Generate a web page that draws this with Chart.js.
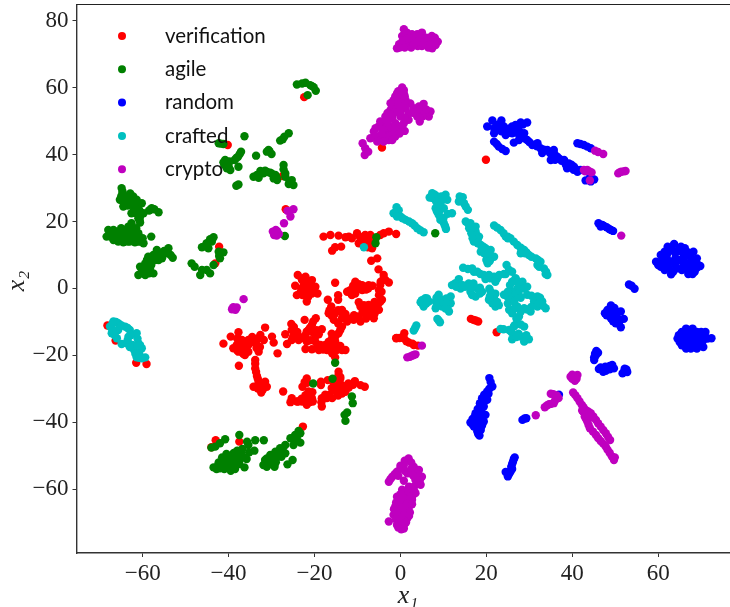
<!DOCTYPE html>
<html>
<head>
 <meta charset="utf-8" />
 <title>t-SNE scatter</title>
 <script src="https://cdn.jsdelivr.net/npm/chart.js@4"></script>
 <style>
  html, body { margin: 0; padding: 0; background: #fff; overflow: hidden; }
 </style>
</head>
<body>
 <!-- 5px wider than the window: the layout leaves 5px free on the right and the plot has to run to the edge -->
 <canvas id="myChart" width="735" height="607"></canvas>
 <script>
  // values, [x1, x2]
  var names = ["verification", "agile", "random", "crafted", "crypto"];
  var colors = ["#ff0000", "#008000", "#0000ff", "#00bfbf", "#bf00bf"];
  var xTicks = [-60, -40, -20, 0, 20, 40, 60];
  var yTicks = [-60, -40, -20, 0, 20, 40, 60, 80];

  var verification = [
   [-22.4,57.2],[-40.2,42.9],[-4.3,42.1],[-43.1,7.5],[-42.2,12.5],[-27.4,33.6],[-26.7,23.7],[19.9,38.5],
   [-17.9,15.5],[-16.3,16],[-14.4,15.8],[-12.8,15.3],[-11.3,15],[-10.1,16.5],[-8.9,14.5],[-8.2,16],[-7,16],[-7,14],[-6.6,12],[-9.7,13.5],[-8.2,13],
   [-3.9,16.5],[-2.7,17],[-1,16.3],[-4.7,16],[-15.9,11.3],[-15.2,12.3],[-13.8,12.5],[-6.8,8.3],[-5.4,9],[-5.1,5.7],[-3.9,4],
   [-12,15.5],[-9.5,15.5],[-7.5,15],[-8.8,13.3],[-7.6,12.3],[-6.8,13],
   [-23.9,4],[-22.1,3.5],[-20.6,2.5],[-24.5,0.8],[-22.5,1],[-21.4,0],[-24.1,-2],[-20.6,-1.5],[-19.3,-1.5],[-21.8,-3.9],[-22.1,-1],[-19.8,0.5],[-22.9,2.5],[-15.2,1.7],
   [-23,0],[-23.2,-1],[-21.8,2],[-23,3],[-21,1.4],[-20.8,-0.5],[-22.8,-2],[-21.5,-2.6],
   [-3.9,3],[-2.7,1.8],[-4.7,1],[-7.4,1],[-8.9,1],[-10.5,2],[-11.7,-0.5],[-12.4,-1],[-10.5,-1.5],[-8.9,-0.5],[-11.3,-2],[-5,-0.5],[-5,-2],[-4.7,-4],[-4.3,-3.4],
   [-9.7,1.3],[-9.5,0],[-10.5,0],[-11,0.8],[-6.5,0.8],[-7.5,0],[-8,-0.3],[-4.6,2],[-4.4,-1],[-3.5,2.5],
   [-14.5,-2],[-14.5,-3.4],[-16.9,-3.4],[-16.1,-5.4],[-9.7,-4.1],[-9.3,-5.4],[-7.4,-4.9],[-5.8,-5.9],[-5,-6.4],[-7,-7.4],[-6.2,-8.9],[-8.2,-7.4],[-9.7,-8.4],[-9.3,-9.9],[-10.9,-9.4],[-12.4,-9.9],
   [-6.8,-6],[-7.8,-6],[-8.8,-7],[-6,-7.5],[-5.3,-5],[-6,-4],[-8,-9],[-10.8,-8],[-8.5,-5],
   [-13.6,-6.4],[-15.2,-7.4],[-16.7,-7.4],[-15.5,-9.4],[-13.6,-8.9],[-13.6,-11.4],[-14.4,-13.4],[-15.9,-14.9],[-16.7,-15.9],[-15.5,-16.9],[-17.5,-16.9],
   [-13.5,-7.5],[-12,-9],[-14.5,-6.5],[-16,-8.2],[-12.8,-7.6],[-16.5,-6.5],[-14.5,-10.5],[-14,-12.4],[-15,-14],[-15.2,-15.8],[-16.5,-17],[-14.6,-17.6],[-16.3,-18.3],[-18,-18.3],[-14,-17.2],[-16,-13.5],
   [-13.6,-18.4],[-12.8,-18.4],[-14.8,-18.4],[-15.9,-19.4],[-15.2,-20.6],[-17.1,-18.4],[-19,-18.4],[-20.6,-18.2],[-22.1,-18.1],
   [-25.4,-10.6],[-22.3,-9.4],[-19.7,-8.9],[-20.6,-10.9],[-18.3,-12.2],[-21.4,-12.4],[-25.3,-12.4],[-26.8,-13.7],[-24.5,-13.9],[-26.4,-16.6],[-25.3,-15.4],[-23.7,-15.4],[-21.8,-15.9],[-19.8,-14.4],[-19.8,-15.9],[-18.6,-16.9],[-22.1,-13.9],
   [-24.8,-11.5],[-24,-13],[-23.5,-14.5],[-25,-14.5],[-22.8,-14.8],[-21,-11.7],[-20.5,-13],[-19.5,-12.5],[-21.8,-12.9],[-20.3,-9.9],[-21,-15.5],[-19.3,-17],[-19,-13.7],
   [-31.5,-11.7],[-37.7,-13.1],[-39.5,-14.4],[-41.2,-16.5],[-32.6,-13.9],[-29.9,-14.4],[-29.5,-16.2],[-31.8,-15.4],[-33.4,-15.4],[-35.4,-15.4],[-36.9,-15.4],[-38.1,-16.9],[-38.9,-17.9],[-36.9,-16.9],[-35.4,-16.9],[-37.7,-18.9],[-36.2,-19.9],[-35.4,-18.9],[-33,-18.9],[-28.6,-19.4],
   [-38,-15],[-37,-18],[-36,-18],[-38,-18.5],[-36,-16],[-34.5,-16],[-34.5,-14.5],[-33,-14.8],[-36.6,-19.5],[-32.7,-17.5],[-33.5,-17.8],
   [-33.8,-21.4],[-33.8,-23.9],[-37.6,-23.1],[-33.4,-26.2],[-33,-27.9],[-31.5,-27.9],[-34.2,-29.4],[-31.1,-29.4],[-32.4,-31.1],[-33.2,-29.9],[-32.2,-29.4],
   [-33.8,-22.5],[-33.6,-25],[-33.2,-29],[-32.2,-28.5],[-32,-30.2],[-33.2,-27],
   [-27.3,-30.8],[-21.8,-26.9],[-22.8,-29.4],[-18.5,-28.9],[-18.5,-27.9],[-14.4,-24.9],[-14.4,-25.9],[-16.9,-27.4],[-13.6,-28.9],[-14.4,-28.9],[-12.1,-28.4],[-10.6,-27.7],[-9.3,-28.9],[-8.3,-29.4],
   [-15.2,-30.4],[-13.6,-31.4],[-15.9,-32.8],[-12.8,-30.9],[-18.3,-32.8],[-18.3,-35.3],[-17.1,-32.8],[-21.4,-30.8],[-22.1,-31.9],[-20.6,-32.8],[-22.9,-33.8],[-21.8,-34.8],[-20.4,-33.8],[-25.3,-32.8],[-25.6,-34],[-24.1,-33.8],[-14.8,-29.8],
   [-14,-27],[-14.8,-28],[-15.5,-28.5],[-16,-29.8],[-13,-30],[-14,-30],[-14.8,-31],[-16.5,-31.8],[-17.5,-31.8],[-14.5,-32],[-12,-29.6],[-11,-28.8],[-20.8,-31.5],[-21.2,-32.5],[-22,-33],[-23,-33],[-23.8,-33.8],[-21.2,-34],[-20.5,-31],[-21.7,-28.2],[-22.3,-28],[-18.4,-34],[-14,-26.5],
   [-68.2,-11.1],[-66.3,-15.6],[-61.5,-22.2],[-59.1,-22.6],[-43,-45.4],[-44,-47.5],[-37.5,-45.8],[-22.7,-41.3],
   [-1,-14.9],[-0.9,-14.8],[0.9,-13.4],[0.8,-14.9],[2,-16.2],[3.1,-16.9],[4.1,-17.1],[2.8,-16.5],[1.4,-15.8],[-0.2,-14.8],[16.4,-9.1],[17.5,-9.6],[18.1,-9.9],[17,-9.4],[22.4,-13.1]
  ];

  var agile = [
   [-22.9,61.3],[-24.1,61],[-22.1,61.5],[-20.2,60.2],[-19.7,59.1],[-21.6,57.8],[-20.6,60.5],[-21,60.8],
   [-36.3,45.5],[-26,46.4],[-27,45.4],[-28,44.2],[-27.4,44.6],[-42.3,43.4],[-41.2,43.2],[-41.8,43.3],[-30.7,41.4],[-30,40.2],[-31.1,40.9],[-30.5,41],[-33.6,39.7],[-37.1,40.9],[-37.8,39.4],[-38.6,38.4],[-38.2,39],[-37.4,40.2],[-40.8,38.4],[-40,37.4],[-41.2,37.7],[-41,37],[-40,36.5],[-39.8,38],[-39.6,35.4],[-40.4,35.9],[-37.7,36.4],[-37.7,31.1],[-38.2,30.7],
   [-27.2,36.9],[-27.2,35.6],[-32.6,35.1],[-31.5,35.2],[-30.3,34.6],[-29.1,33.9],[-34.2,33.4],[-33,33.1],[-28.7,32.4],[-29.5,32.9],[-26.8,33.4],[-25.3,32.4],[-24.9,30.9],[-26,31.2],[-26.8,34.4],[-31.9,34.4],[-33.4,33.9],[-29.9,34.3],[-28.8,33.2],[-25.8,32],[-31,34.8],
   [-64.9,30],[-64.7,28.4],[-65.3,26.5],[-64.1,27.5],[-62.9,28.4],[-62.2,27.5],[-61.4,26.5],[-63.3,26],[-64.5,24.5],[-62.6,25],[-61.8,25],[-60.2,25.5],[-62.6,22.5],[-61.4,22.5],[-60.6,21.5],[-60.6,19.7],[-59.8,22.5],[-57.9,24],[-57.3,23.7],[-56.3,22.8],[-58.5,23.3],[-63.7,25],
   [-64.5,26],[-63.5,27],[-62.3,26.5],[-63.5,24.8],[-61.5,24],[-62,23.5],[-60.8,23.5],[-65,27.5],[-64.7,29],[-61,21],[-60.7,20.5],[-58,23.7],
   [-68,17.5],[-68.4,15.5],[-67,16.5],[-66.8,14.5],[-66.8,17.5],[-65.7,16],[-65.7,14],[-65,18],[-64.5,15.5],[-64,17.5],[-63.3,15.5],[-63.3,18.5],[-62.6,19.5],[-62.2,16.5],[-62.2,14.5],[-61,16.5],[-61,14],[-60,15],[-59.8,13.5],[-58,15.5],[-64.5,13.8],[-66,15.5],[-61.5,18],
   [-67.5,15.5],[-66,17],[-65,14.8],[-65,16.5],[-63,16.8],[-63.5,14],[-62.8,17.5],[-61.5,15.5],[-60.5,14],[-61.8,13.8],[-63,14],
   [-56.7,11.5],[-54,12],[-54.8,10.5],[-53,9.2],[-55.9,10],[-57.5,10],[-58.7,9.5],[-57.1,8.5],[-58.3,8],[-59.4,7.5],[-60.6,6.5],[-59,6],[-60.2,5],[-57.5,4.5],[-61,4],[-59.4,4],[-58.3,6],[-56.3,8.5],[-55.5,9],
   [-60,6],[-59.5,5],[-58.8,7],[-58,7],[-57,9.5],[-56.5,10],[-58,9],[-55,11.2],[-54.2,10.5],[-53.5,10],[-60,4.5],[-58.5,4.5],[-59,8.5],
   [-43.5,15.3],[-44.3,14.7],[-45.1,13.5],[-46.2,12.3],[-44.7,12],[-43.9,14],[-45.5,12.7],[-42.3,11],[-41.2,10.8],[-42,9],[-43.5,7],[-48.6,7.5],[-47.9,6.5],[-46.2,5.5],[-45.1,5.5],[-46.6,4],[-44.3,4.5],[-42.2,9.7],
   [-26.9,15.7],[-5.6,15.3],[-5.8,13.5],[8.1,16.5],
   [-15.2,-22.2],[-15.8,-27],[-20.3,-28.4],[-11.3,-32.3],[-11.1,-34.3],[-12.4,-37.1],[-13,-37.8],[-12.8,-39.6],
   [-43.5,-53.5],[-42.8,-54],[-42.3,-52],[-42,-53.8],[-41.5,-50.5],[-41,-52.5],[-41,-54],[-40.5,-49.5],[-40,-51],[-40,-53],[-39.5,-54.5],[-39,-50],[-38.8,-52],[-38.5,-54],[-38,-48.5],[-37.7,-50.5],[-37.5,-52.5],[-36.8,-48],[-36.5,-50.5],[-36.3,-53.5],[-35.8,-51],
   [-41.8,-53],[-41.5,-52],[-40.5,-52.5],[-40.5,-50.5],[-39.5,-52],[-39,-53],[-38.5,-51],[-37.5,-51.5],[-37,-49.5],[-37.5,-49],[-38.8,-49.2],[-39,-51],[-41,-51.5],[-42.5,-53],
   [-37.5,-43.8],[-35.7,-45.8],[-33.8,-45.4],[-31.8,-45.4],[-35.4,-46.8],[-34,-48.5],[-35.2,-49],[-40.8,-45.1],[-42,-46.3],[-43.1,-47.3],[-44,-47.6],
   [-26.8,-46.8],[-28,-47.8],[-29.1,-48.8],[-30.3,-49.8],[-31.5,-51.3],[-31.9,-52.8],[-31.1,-53.3],[-29.3,-53.3],[-26.3,-52.6],[-25.1,-51.3],[-27.7,-50.3],[-28.9,-50.8],[-30,-51.8],[-26.8,-49.3],[-28.3,-49.3],[-31.1,-50.8],
   [-29.5,-50],[-30,-50.5],[-29,-52],[-30.5,-52.5],[-28,-49.3],[-27.5,-48.5],[-27.2,-49],[-31,-52],
   [-23.7,-42.6],[-24.5,-43.8],[-25.6,-44.8],[-24.1,-45.3],[-23.3,-46.1],[-24.9,-46.8],[-23.3,-43.3],[-24.3,-44.5],[-24,-44]
  ];

  var random = [
   [20.2,48.4],[21.4,50.2],[23.5,50.2],[21.8,47.9],[22.5,48.9],[24.5,47.4],[26,48.4],[28,49.6],[29.5,49.6],[26.8,48.9],[21.8,46.4],[26,46.4],[27.6,45.9],[26.4,43.6],[28.8,46.4],[29.5,44.4],[30.7,42.9],[31.9,43.4],[32.6,41.9],[34.2,41.4],[35.7,41.4],[35.4,39.4],[36.5,39.4],[35,38.4],[38.1,38.4],[39.2,37.4],[38.8,35.9],[40.4,36.4],[41.9,35.4],[41.2,34.9],[24.5,45.9],[27.6,44.4],[25,47],[33,40.5],[37,38.8],
   [23,49],[24,48.5],[25.2,47.8],[26.5,47.5],[27.5,48.5],[28.5,49],[22.5,47.5],[23.5,47],[25,46.5],[27,47],[27.8,46.8],[28.4,45.2],[29,44.8],[30,43.8],[31.2,43],[31.8,42.5],[33.4,41.5],[34.8,40.5],[35.8,40.3],[36,38.5],[37.5,38.2],[38.5,37],[39.8,37],[40.3,35.5],[41,35.5],
   [21.8,43.9],[22.9,42.4],[24.5,41.1],[22.4,43.2],[23.7,41.7],[41.2,43.4],[42.7,42.9],[44.3,41.9],[41.9,43.2],[43.5,42.4],[43.1,32.3],[45.1,32.6],[44.2,33.5],[44.1,32.8],[44.3,32],
   [46.1,19.5],[47.4,18.7],[48.6,17.8],[49.5,17.2],[46.6,18.5],[47,19],[48,18.3],[49,17.5],
   [62.2,12.5],[63.7,13.3],[65.3,12.5],[66.2,12],[68.2,11],[60.6,10],[62.2,10.5],[64,10.5],[66,10],[67.5,9.5],[59.5,8],[61,8],[63,8],[65,8.5],[67,7.5],[69,7.5],[69.8,6.7],[60.6,6.5],[62.5,6],[64.5,6],[67,5.5],[68.5,5],[63,4.2],[67,4.3],[68,4.3],
   [61.5,11],[63,11.5],[64.8,11.5],[65.5,11],[67,10.8],[61,9],[62,9],[64,9],[66,9],[68,8.5],[69,9],[60,7],[62,7],[64,7],[66,7],[68,6.5],[61.5,5.5],[63.5,5],[65.5,5.5],[66,6.5],[67.5,6],[69,6.2],[62.5,8],[64,7.5],
   [53.8,0.8],[54.5,-0.1],[53.2,1.2],
   [49,-5.1],[47.6,-7.4],[49.7,-6.9],[51.3,-6.9],[49,-8.9],[52,-9.1],[50.1,-10.4],[51.3,-11.6],[50.5,-8.9],[48.2,-6.4],[49,-6.5],[48,-8],[50,-8],[50.5,-7],[49.5,-9.8],[50.8,-10.5],[51,-9.8],[48.5,-7.5],[49.8,-5.8],
   [64.5,-15],[65.5,-13],[66,-16.5],[66.5,-12],[67.5,-14],[67.6,-18],[68,-12],[68,-16],[69,-14.5],[69,-18],[70,-13],[70.5,-15.5],[70.5,-17.5],[71.5,-15],[72.4,-14.9],[65.5,-17],[66.5,-18],[67.5,-16.5],[71,-13],
   [65,-14],[66,-14],[66,-15],[67,-13],[67,-15],[67.5,-12.5],[68.5,-13],[68,-15],[68,-17],[69,-13],[69.5,-16],[70,-14.5],[69.5,-17],[66,-13],[65,-16],[64.8,-14],[66.5,-17.5],[67,-17.5],[68.5,-17.5],[71,-14.5],
   [45.6,-18.7],[45.1,-20.6],[46,-19.2],[45.1,-21.4],[45.5,-20],[45.3,-19.5],[46.2,-24.1],[47.2,-24.9],[48.2,-23.9],[49.3,-22.9],[49.7,-23.9],[46.6,-23.6],[47.7,-23.4],[48.7,-23.2],[48.7,-24.2],[47.8,-24.6],[51.7,-25.4],[52.6,-24.2],[52.8,-25],[52,-25],[52.2,-24],
   [20.7,-26.8],[21.4,-29.3],[20.2,-30.8],[19,-32.8],[20.2,-33.3],[18.5,-34.3],[19.4,-35.3],[17.5,-37.3],[19.8,-37.8],[18.6,-37.3],[16.3,-40.1],[17.5,-39.3],[19.4,-39.8],[18.3,-41.3],[17.1,-41.3],[18.4,-44],[17.9,-42.8],[19,-41],
   [21,-28],[20.7,-30],[20.5,-31.5],[19.5,-31.8],[19.5,-33.8],[19.1,-34.8],[18.9,-36],[18,-36],[17.3,-38.3],[18.5,-38.5],[18.7,-40],[17.5,-40.3],[16.8,-39],[18.9,-38.5],[16.8,-40.7],[17.8,-41.5],[18.7,-42.3],[18.1,-43.5],
   [28.9,-38.9],[28.4,-39.3],[29.3,-38.8],
   [26.6,-50.5],[26.2,-51.8],[25.8,-53.3],[25.6,-54.8],[24.5,-54.9],[25,-56.2],[26,-54],[26.4,-51],[26,-52.5],[25.9,-54],[25,-55],[25.3,-55.5],
   [36.9,-31.8]
  ];

  var crafted = [
   [-8.5,12.3],[-0.9,24.3],[-1.6,22.5],[0,21.5],[1.2,20.5],[2.7,19.5],[3.9,18],[5.4,16.8],[-0.4,23.4],[-1,23],[-0.8,21.5],[0.5,21],[2,20],[3.3,18.8],[4.6,17.4],
   [7.4,28.5],[6.8,27.2],[8.5,27.5],[10.5,28],[10.9,26.5],[8.9,25.5],[8.2,24],[10.1,24],[8.9,22],[12,22.5],[9.3,20.5],[10.1,19.5],[10.6,17.8],
   [7.5,27],[8,28],[9.5,27.5],[9.5,26],[9.8,26.8],[8.3,26],[9,24.5],[9,23],[8.5,23],[9.3,21.3],[11,22.3],[10,21],[10.4,18.6],
   [14,27],[13.6,26],[14.8,25.5],[15.7,23.5],[14.5,27.3],[14.3,26.2],[15.2,24.5],[13.8,27.5],
   [15.2,20],[16.3,19.5],[17.5,18.5],[16,18],[17.1,16.5],[18.3,15.5],[17.1,14],[18.7,13],[19.8,12],[21,11.5],[18.7,11],[20.2,9.5],[21.8,9.5],[20.3,7.5],[17.9,14.5],
   [15.8,19.3],[16.8,18.3],[17.5,17],[16.5,16.5],[17.7,16],[18,14.8],[16.8,15],[18,13.5],[19.3,12.5],[20,11],[19.5,10.5],[21,9],[20,8.5],[20.8,8.2],[19,12],[20.5,10.5],
   [21.8,18.8],[23.3,17.5],[24.5,15.5],[25.6,15],[27.2,13],[28.8,11.5],[28,10.5],[29.9,10],[31.5,9],[32.6,8],[31.9,7],[33.4,6],[34.2,4],[29,10.5],[25,15.5],
   [22.5,18.2],[24,16.5],[25,15],[26.4,14],[28,12.2],[29.3,10.8],[30.5,9.5],[32,8.5],[32.3,6.5],[33.9,5],[28,12],
   [14.6,6.2],[16.7,6],[17.9,5],[19.4,4],[24.7,7],[25.3,5.5],[24.1,4.3],[21.8,3.5],[13.6,2.8],[26.8,3],[15.7,5.8],[22.5,3],[23,4],[21,3],[19.8,2.8],
   [17.1,5],[18.6,4.3],[20.6,4],[22.1,2],[24.5,4.3],[26,5],[33.8,4.3],
   [13.4,2],[12,1],[14,0],[15.9,1.5],[16.3,-1],[17.9,0],[17.5,-2.4],[19,-1],[20.7,-0.1],[22.1,-1.6],[20.6,-3.4],[22.1,-5.4],[22.9,-5],[21.4,-4.4],
   [12.7,1.5],[13,0.5],[14.5,1],[15,0.5],[16.5,0.3],[17,1.5],[18.5,-1.5],[16.7,-2],[18.5,0.2],[21,-2],[21,-1],[21.8,-3],[22.5,-4],[20.8,-2.5],
   [4.7,-4.1],[5.8,-2.9],[5.4,-5.4],[6.6,-3.9],[8.9,-1.9],[8.2,-3.9],[9.7,-3.4],[8.2,-5.9],[9.7,-5.4],[11.3,-6.9],[11.7,-4.4],[11.7,-2.4],[8.6,-9.1],[9.2,-10.1],[3.7,-11.1],[3.1,-12.6],
   [5,-3.5],[5.2,-4.7],[6,-4.5],[6.2,-3],[8.4,-2.8],[9,-4.5],[8.5,-5],[10,-4.5],[10.7,-3],[11,-5.5],[10.5,-6],[8.9,-9.6],[3.4,-11.9],
   [26.8,3],[28.4,2],[29.5,0.5],[25.6,-0.5],[27.2,0],[24.9,-2.4],[26.4,-2.9],[29.5,-1.9],[31.9,-2.4],[33,-3.9],[33.8,-5.9],[31.9,-5.4],[30.3,-6.9],[28.8,-5.9],[27.2,-5.4],[25.3,-6.4],[31.1,-3.9],[26,-7.4],[27.6,-8.4],[27.2,-10.4],[28.8,-11.4],
   [25.5,1],[26,2],[27.3,2],[28,1],[28.8,0],[26.2,-1.2],[25,-1],[27.5,-1.5],[25.5,-3.5],[25,-4.5],[26.5,-4],[28,-2.8],[30.5,-2.2],[32.5,-2.8],[32.2,-4.5],[33.2,-5.2],[30.5,-5.5],[29.5,-6.3],[28,-7],[26.5,-6],[27,-9],[26.6,-11],[28,-10.8],
   [23.3,-12.1],[25.3,-12.4],[26.4,-13.9],[26,-15.2],[28,-14.4],[28.8,-15.9],[29.9,-15.2],[24.1,-1.9],[26.4,-11.4],[24,-12.2],[25.8,-13],[27,-14.5],[27.5,-13.5],[29.3,-14],
   [-66.8,-9.9],[-65.7,-10.4],[-67.6,-11.4],[-64.1,-11.4],[-67.2,-13.4],[-66,-14.9],[-63.3,-14.4],[-61.4,-13.4],[-63.7,-16.4],[-64.9,-16.6],[-61,-16.4],[-60.2,-17.9],[-62,-18.4],[-61.4,-20.6],[-60.2,-20.9],[-59.4,-20.6],[-65.7,-12.4],[-62.4,-16.9],[-63,-12.4],
   [-66.2,-10],[-67,-10.5],[-67,-12.5],[-66.5,-14],[-65,-11],[-63.5,-11.8],[-62.8,-14],[-63.5,-15.5],[-61.2,-15],[-60.6,-17],[-63,-17.5],[-61.7,-19.5],[-60.8,-19.5],[-60.8,-20.7]
  ];

  var crypto_ = [
   [0.8,77.5],[0.4,75.5],[1.6,75],[2.7,76],[3.9,76],[5,76.5],[-0.3,73],[-0.8,71.8],[1.6,73],[2.7,74],[3.9,73],[5,74.5],[5,72.5],[6.2,73],[7.3,75.5],[7.4,73.5],[7.4,71.8],[8,75],[8.7,73.8],[8.2,72.8],[1,72],[2.5,72],[4,72.5],[6,75],[6.5,72],
   [1.5,76.5],[3.3,75],[4.5,75.3],[0.5,74],[2,74.8],[4.2,74],[6,74],[-0.2,72],[3,72.8],[5.5,73.5],[8,73.5],[6.8,74.7],[7,73],
   [0.4,60.1],[-0.8,58.3],[0.8,58.3],[-1.6,56.3],[0,56.8],[1.2,56.3],[-2.3,53.4],[-0.8,53.9],[1.2,53.9],[2.3,55.3],[3.1,53.9],[4.3,54.4],[5.4,55.2],[5.4,52.9],[7,52.9],[6.6,51.4],[4.5,49.9],[1.9,52.4],[1.9,50.4],[0,51.4],[-1.9,50.9],[-3.5,51.4],[-3.9,48.9],[-1.2,49.4],[0.8,49.4],[1,47.1],[-0.8,47.4],[-2.3,46.9],[-1.2,45.4],[-2.7,44.4],[-4.3,44.4],[-3.5,46.4],[3.9,51.4],[3.9,52.9],
   [-0.5,59],[1,57.5],[-0.5,57],[-1.5,55],[0,55.5],[1,55],[-3,52.5],[-1.5,52.5],[0,52.5],[1,51],[2.8,52.5],[4.6,53.5],[6,53.5],[5.2,51.5],[4.5,51],[-3,50],[-5,48.5],[-2.5,48.5],[0,48.5],[-4,47.5],[-2,47.8],[-0.2,46.3],[-5,45.5],[-3.5,45],[-5.8,45.3],[-1.8,46],
   [0.8,59.3],[-1.2,57.4],[-2.3,55.4],[-2.3,51.9],[0,53.9],[-4.7,49.9],[-5.8,47.9],[-3.5,50.4],[-1.2,48.4],[-7,44.9],[-6.2,46.9],[-4.3,46.4],[-2.7,45.4],[-5.4,43.9],[-3.9,43.9],[-8.8,43.4],[-8.2,41.9],[-8.3,39.9],[-7.5,40.9],[-1.9,44.4],
   [-24.9,23.7],[-26.3,23.2],[-25.6,21.5],[-27.1,19.5],[-29.1,16.5],[-28.3,16.3],[-29.7,17],[-28.7,17.1],[-29.4,16],[-28.8,15.8],[-29,17.5],
   [-36.5,-3.2],[-38.6,-6.1],[-39.2,-6.2],[-38.1,-5.7],[-39,-6],[-38.4,-6.4],[-38.9,-5.6],
   [5,-17.1],[1.6,-20.6],[2.7,-20.1],[3.5,-19.7],[2.2,-20.4],[3.1,-19.9],
   [1.9,-50.8],[0.8,-52.8],[3.1,-53.3],[4.3,-54.3],[-0.8,-54.8],[-1.9,-56.3],[-2.7,-57.8],[5,-56.3],[4.7,-58.7],[2.3,-55.3],[3.5,-57.3],[0.4,-60.2],[2,-59.3],[3.5,-61.2],[-0.8,-62.3],[1.2,-62.3],[2.7,-63.2],[-1.2,-65.2],[0.4,-64.7],[1.9,-65.7],[-1.6,-67.7],[0,-67.7],[1.6,-68.7],[-2.7,-69.7],[-0.8,-70.7],[0.2,-72],[0.8,-70.7],[1.2,-66.7],[-0.4,-63.2],[3.1,-59.3],[-0.4,-66.2],[1.6,-55.3],[3.1,-55.3],[0,-53.8],[0.8,-57.5],
   [1,-51.5],[0,-53],[2.5,-52],[-1.3,-55.5],[-2.3,-57],[-0.5,-56],[1,-54.5],[2.5,-54],[4,-55.5],[4.5,-57.5],[3,-56],[3.8,-58.5],[0.8,-61],[1.8,-60.5],[2.7,-61],[0,-61.5],[-0.3,-64],[1,-63.5],[2,-63],[2.8,-62],[3.2,-60.5],[-1,-64],[0.5,-63],[1.5,-64.5],[2.7,-64.5],[-1.5,-66],[0.5,-66],[2.2,-67],[-1,-67],[0.8,-67.8],[2,-68],[-1,-69],[0,-69],[1,-69.5],[-0.3,-70],[1.3,-70],[-0.5,-71.5],[0.8,-71.8],
   [40.6,-26.4],[39.6,-26.4],[41.2,-25.9],[40.6,-27.6],[40,-25.8],[41,-27],[40,-27],
   [40.2,-31.1],[41.2,-32.8],[42.2,-34.8],[43.1,-36.3],[44.3,-37.3],[45.5,-39.3],[46.6,-41.3],[47.8,-43.3],[48.8,-45.3],[42.9,-38.3],[43.5,-39.8],[44.1,-41.8],[45.5,-43.8],[46.6,-45.6],[47.8,-47.3],[48.7,-49.1],[49.7,-51.3],[43.9,-37.8],
   [40.7,-31.9],[41.7,-33.8],[42.6,-35.5],[43.7,-36.8],[44.9,-38.3],[46,-40.3],[47.2,-42.3],[48.3,-44.3],[43.2,-39],[43.8,-40.8],[44.8,-42.8],[46,-44.7],[47.2,-46.4],[48.2,-48.2],[49.2,-50.2],[49.9,-50.5],[42.5,-36.8],[43.5,-37.3],[44.5,-38.5],[42.3,-36.5],
   [35.6,-31.6],[36.8,-32.8],[35.7,-34.3],[34.6,-34.6],[33.6,-35.5],[31.5,-37.9],[36,-33.5],[35.1,-34.5],[34.1,-35],[35,-31.5],[36.4,-32],
   [45.3,41.2],[47.2,40.2],[46,40.8],[42.7,35.4],[43.5,35.4],[44.5,34.7],[44,35],[43,35],[44.1,32.3],[50.7,34.4],[51.4,34.9],[52.4,35.1],[51,34.7],[52,35],[51.4,15.8]
  ];

  var seriesValues = [verification, agile, random, crafted, crypto_];

  function tickText(v) {
   return v < 0 ? "\u2212" + Math.abs(v) : String(v);
  }

  // top spine, axis titles and the frameless legend inside the axes
  var framePlugin = {
   id: "frame",
   afterDraw: function (chart) {
    var ctx = chart.ctx, a = chart.chartArea;
    ctx.save();
    ctx.strokeStyle = "#222222";
    ctx.lineWidth = 1.2;
    ctx.beginPath();
    ctx.moveTo(a.left, a.top);
    ctx.lineTo(a.right, a.top);
    ctx.stroke();

    ctx.font = "20.5px Lato";
    ctx.textAlign = "left";
    ctx.textBaseline = "middle";
    for (var i = 0; i < names.length; i++) {
     var y = 36 + i * 33.3;
     ctx.fillStyle = colors[i];
     ctx.beginPath();
     ctx.arc(122, y, 4, 0, Math.PI * 2);
     ctx.fill();
     ctx.fillStyle = "#111111";
     ctx.fillText(names[i], 165, y);
    }

    ctx.fillStyle = "#222222";
    ctx.font = "italic 26px 'Liberation Serif'";
    ctx.textAlign = "center";
    ctx.fillText("x\u2081", 408, 596);
    ctx.translate(17, 281);
    ctx.rotate(-Math.PI / 2);
    ctx.fillText("x\u2082", 0, 0);
    ctx.restore();
   }
  };

  var chart = new Chart(document.getElementById("myChart").getContext("2d"), {
   type: "scatter",
   data: {
    datasets: names.map(function (name, i) {
     return {
      label: name,
      data: seriesValues[i].map(function (p) { return { x: p[0], y: p[1] }; }),
      backgroundColor: colors[i],
      borderWidth: 0,
      pointRadius: 4.2,
      order: names.length - i
     };
    })
   },
   plugins: [framePlugin],
   options: {
    responsive: false,
    animation: false,
    layout: { padding: { top: 4.5, right: 0, left: 0, bottom: 0 } },
    plugins: { legend: { display: false }, tooltip: { enabled: false } },
    scales: {
     x: {
      type: "linear",
      min: -75.4,
      max: 76.9,
      afterBuildTicks: function (axis) { axis.ticks = xTicks.map(function (v) { return { value: v }; }); },
      afterFit: function (axis) { axis.height = 54; axis.paddingLeft = 0; axis.paddingRight = 0; },
      grid: { drawOnChartArea: false, color: "#333333", tickLength: 4 },
      border: { color: "#333333", width: 1.4 },
      ticks: { callback: tickText, color: "#222222", maxRotation: 0, padding: 3, autoSkip: false, font: { family: "Liberation Serif", size: 23 } }
     },
     y: {
      type: "linear",
      min: -79.1,
      max: 84.9,
      afterBuildTicks: function (axis) { axis.ticks = yTicks.map(function (v) { return { value: v }; }); },
      afterFit: function (axis) { axis.width = 76.5; axis.paddingTop = 0; axis.paddingBottom = 0; },
      grid: { drawOnChartArea: false, color: "#333333", tickLength: 4 },
      border: { color: "#333333", width: 1.4 },
      ticks: { callback: tickText, color: "#222222", padding: 4, autoSkip: false, font: { family: "Liberation Serif", size: 23 } }
     }
    }
   }
  });
 </script>
</body>
</html>
